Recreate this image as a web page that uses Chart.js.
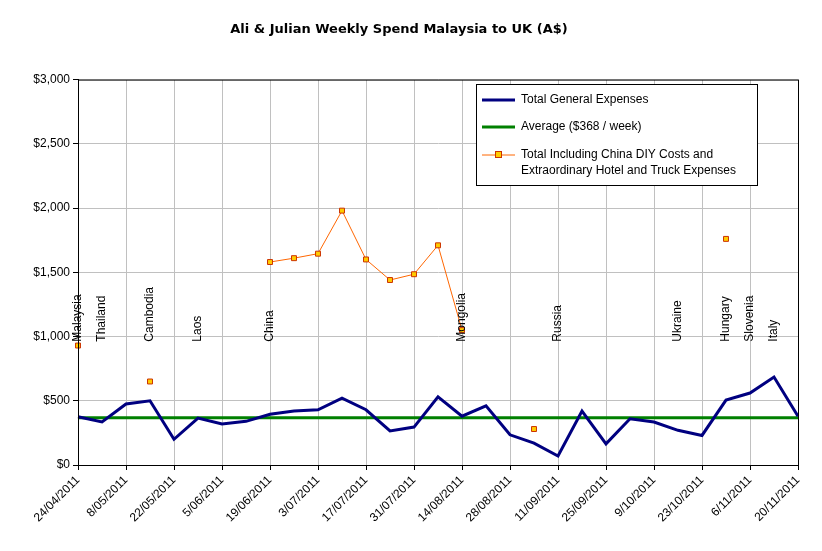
<!DOCTYPE html>
<html><head><meta charset="utf-8">
<script src="https://cdn.jsdelivr.net/npm/chart.js@4"></script>
<style>html,body{margin:0;background:#fff}#w{width:822px;height:551px}</style>
</head><body><div id="w"><canvas id="c"></canvas></div>
<script>
const weeks = ["24/04/2011","1/05/2011","8/05/2011","15/05/2011","22/05/2011","29/05/2011","5/06/2011","12/06/2011","19/06/2011","26/06/2011","3/07/2011","10/07/2011","17/07/2011","24/07/2011","31/07/2011","7/08/2011","14/08/2011","21/08/2011","28/08/2011","4/09/2011","11/09/2011","18/09/2011","25/09/2011","2/10/2011","9/10/2011","16/10/2011","23/10/2011","30/10/2011","6/11/2011","13/11/2011","20/11/2011"];
const generalExpenses = [375,335,475,500,200,365,320,340,395,420,430,520,430,265,295,530,380,460,235,170,70,420,165,360,335,270,230,505,560,685,380];
const averageSpend = weeks.map(()=>368);
const totalIncluding = [930,null,null,650,null,null,null,null,1580,1610,1645,1980,1600,1440,1485,1710,1050,null,null,280,null,null,null,null,null,null,null,1760,null,null,null];
const countryIdx = [0,1,3,5,8,16,20,25,27,28,29];
const countryNames = ["Malaysia","Thailand","Cambodia","Laos","China","Mongolia","Russia","Ukraine","Hungary","Slovenia","Italy"];
const legendLabels = ["Total General Expenses","Average ($368 / week)",["Total Including China DIY Costs and","Extraordinary Hotel and Truck Expenses"]];
const FONT = "Arial, 'Liberation Sans', sans-serif";

const extras = {
  id:'extras',
  afterDatasetsDraw(ch){
    const ctx=ch.ctx, x=ch.scales.x, y=ch.scales.y, a=ch.chartArea;
    ctx.save();
    ctx.strokeStyle='#000';ctx.lineWidth=1;
    ctx.strokeRect(a.left+0.5,a.top+0.5,a.right-a.left,a.bottom-a.top);
    ctx.fillStyle='#000';ctx.font='12px '+FONT;ctx.textBaseline='middle';ctx.textAlign='left';
    countryIdx.forEach((i,k)=>{
      ctx.save();ctx.translate(x.getPixelForValue(i),y.getPixelForValue(960));
      ctx.rotate(-Math.PI/2);ctx.fillText(countryNames[k],0,0);ctx.restore();
    });
    const lx=476,ly=84,lw=281,lh=101;
    ctx.fillStyle='#fff';ctx.fillRect(lx,ly,lw,lh);
    ctx.strokeStyle='#000';ctx.strokeRect(lx+0.5,ly+0.5,lw,lh);
    ctx.fillStyle='#000';
    ctx.lineWidth=3;ctx.strokeStyle='#000080';
    ctx.beginPath();ctx.moveTo(482,100);ctx.lineTo(515,100);ctx.stroke();
    ctx.fillText(legendLabels[0],521,100);
    ctx.strokeStyle='#008000';
    ctx.beginPath();ctx.moveTo(482,127);ctx.lineTo(515,127);ctx.stroke();
    ctx.fillText(legendLabels[1],521,127);
    ctx.lineWidth=1;ctx.strokeStyle='#ff6600';
    ctx.beginPath();ctx.moveTo(482,155);ctx.lineTo(515,155);ctx.stroke();
    ctx.fillStyle='#ffcc00';ctx.fillRect(495,151,7,7);ctx.strokeStyle='#cc3300';ctx.strokeRect(495.5,151.5,6,6);
    ctx.fillStyle='#000';
    ctx.fillText(legendLabels[2][0],521,155);ctx.fillText(legendLabels[2][1],521,171);
    ctx.restore();
  }
};

new Chart(document.getElementById('c'),{
  type:'line',
  data:{labels:weeks,datasets:[
    {data:averageSpend,borderColor:'#008000',borderWidth:3,pointRadius:0,order:3},
    {data:generalExpenses,borderColor:'#000080',borderWidth:3,pointRadius:0,tension:0,order:2},
    {data:totalIncluding,borderColor:'#ff6600',borderWidth:1,pointStyle:'rect',pointRadius:3.5,pointBackgroundColor:'#ffcc00',pointBorderColor:'#cc3300',pointBorderWidth:1,spanGaps:false,order:1}
  ]},
  plugins:[extras],
  options:{responsive:true,maintainAspectRatio:false,animation:false,
    layout:{padding:{left:0,right:24,top:0,bottom:0}},
    plugins:{legend:{display:false},tooltip:{enabled:false},
      title:{display:true,text:'Ali & Julian Weekly Spend Malaysia to UK (A$)',color:'#000',font:{family:"Verdana, 'DejaVu Sans', sans-serif",size:13,weight:'bold'},padding:{top:22,bottom:42}}},
    scales:{
      x:{offset:false,afterFit:s=>{s.height=86;},grid:{color:(c)=>c.index%2===0?'#c0c0c0':'rgba(0,0,0,0)',tickLength:5,tickColor:(c)=>c.index%2===0?'#000':'rgba(0,0,0,0)'},border:{color:'#000'},
        ticks:{autoSkip:false,maxRotation:45,minRotation:45,color:'#000',font:{family:FONT,size:12},callback:(v,i)=>i%2===0?weeks[i]:''}},
      y:{min:0,max:3000,afterFit:s=>{s.width=78;},grid:{color:'#c0c0c0',tickLength:5,tickColor:'#000'},border:{color:'#000'},
        ticks:{stepSize:500,color:'#000',font:{family:FONT,size:12},callback:v=>'$'+v.toLocaleString('en-US')}}
    }}
});
</script></body></html>
